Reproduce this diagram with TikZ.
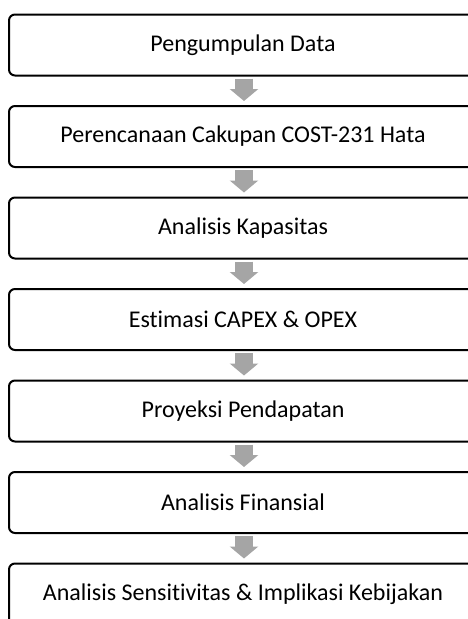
\documentclass[tikz,border=0pt]{standalone}
\usepackage{fontspec}
\setmainfont[Ligatures={NoCommon,NoDiscretionary}]{Carlito}
\usetikzlibrary{arrows.meta}
\definecolor{arrowgray}{HTML}{A5A5A5}
\tikzset{
  stepbox/.style={draw=black, line width=2pt, rounded corners=6pt, minimum width=468pt, minimum height=61pt, inner sep=0pt, anchor=north west, font=\fontsize{24pt}{28pt}\selectfont},
  blockarrow/.style={draw=arrowgray, line width=18pt, -{Triangle[width=28pt,length=12pt]}}
}
\begin{document}
\begin{tikzpicture}[x=1pt,y=-1pt]
\useasboundingbox (0,0) rectangle (468,619);
\clip (0,0) rectangle (468,619);
\node[stepbox] (b1) at (8,13.5) {Pengumpulan Data};
\node[stepbox] (b2) at (8,105) {Perencanaan Cakupan COST-231 Hata};
\node[stepbox] (b3) at (8,196.5) {Analisis Kapasitas};
\node[stepbox] (b4) at (8,288) {Estimasi CAPEX \& OPEX};
\node[stepbox] (b5) at (8,379.5) {Proyeksi Pendapatan};
\node[stepbox] (b6) at (8,471) {Analisis Finansial};
\node[stepbox] (b7) at (8,562.5) {Analisis Sensitivitas \& Implikasi Kebijakan};
\foreach \a/\b in {b1/b2,b2/b3,b3/b4,b4/b5,b5/b6,b6/b7}{
  \draw[blockarrow] ([xshift=1pt,yshift=-2pt]\a.south) -- ([xshift=1pt,yshift=4pt]\b.north);
}
\end{tikzpicture}
\end{document}
